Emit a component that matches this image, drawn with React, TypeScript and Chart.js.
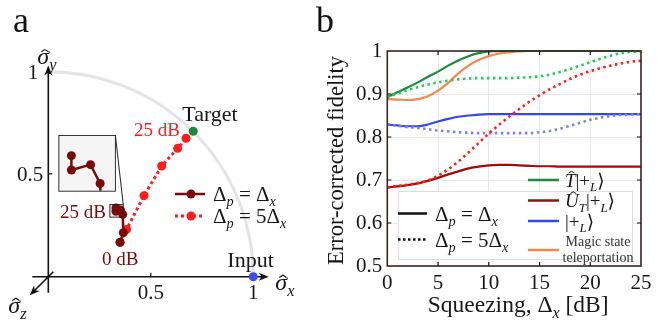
import React, { useEffect, useRef } from 'react';
import { Chart, registerables } from 'chart.js';
Chart.register(...registerables);

const FONT = '"Liberation Serif", "Times New Roman", "DejaVu Serif", serif';

// ---------- Panel a data ----------
const squeezingLevelsA = [0, 5, 10, 15, 20, 25];
const blochXEqual = [0.350, 0.366, 0.363, 0.352, 0.330, 0.330];
const blochYEqual = [0.167, 0.214, 0.303, 0.324, 0.318, 0.334];
const blochXFive = [0.350, 0.382, 0.467, 0.553, 0.631, 0.672];
const blochYFive = [0.167, 0.230, 0.394, 0.538, 0.624, 0.673];
const targetPoint = [0.707, 0.707];
const inputPoint = [1, 0];
const axisTicksA = [0.5, 1];
const axisTickLabelsA = ['0.5', '1'];

// ---------- Panel b data ----------
const squeezingDb = [0, 1, 2, 3, 4, 5, 6, 7, 8, 9, 10, 11, 12, 13, 14, 15, 16, 17, 18, 19, 20, 21, 22, 23, 24, 25];
const fidTSolid = [0.893, 0.904, 0.915, 0.927, 0.940, 0.952, 0.966, 0.978, 0.988, 0.995, 0.999, 1, 1, 1, 1, 1, 1, 1, 1, 1, 1, 1, 1, 1, 1, 1];
const fidTFive = [0.893, 0.901, 0.909, 0.916, 0.922, 0.927, 0.931, 0.934, 0.936, 0.937, 0.937, 0.937, 0.937, 0.938, 0.939, 0.941, 0.945, 0.951, 0.958, 0.966, 0.974, 0.982, 0.989, 0.995, 0.998, 0.999];
const fidUSolid = [0.683, 0.685, 0.688, 0.692, 0.698, 0.705, 0.713, 0.720, 0.727, 0.731, 0.734, 0.735, 0.735, 0.734, 0.733, 0.732, 0.732, 0.731, 0.731, 0.731, 0.731, 0.731, 0.731, 0.731, 0.731, 0.731];
const fidUFive = [0.683, 0.686, 0.689, 0.693, 0.699, 0.710, 0.725, 0.743, 0.764, 0.786, 0.808, 0.828, 0.847, 0.865, 0.882, 0.897, 0.911, 0.923, 0.935, 0.945, 0.953, 0.960, 0.966, 0.971, 0.975, 0.977];
const fidPlusSolid = [0.829, 0.827, 0.825, 0.825, 0.829, 0.836, 0.842, 0.847, 0.850, 0.852, 0.853, 0.853, 0.853, 0.853, 0.853, 0.853, 0.853, 0.853, 0.853, 0.853, 0.853, 0.853, 0.853, 0.853, 0.853, 0.853];
const fidPlusFive = [0.829, 0.826, 0.823, 0.821, 0.818, 0.815, 0.813, 0.811, 0.810, 0.809, 0.809, 0.809, 0.809, 0.809, 0.809, 0.811, 0.814, 0.819, 0.826, 0.833, 0.840, 0.845, 0.849, 0.851, 0.852, 0.853];
const fidMagicSolid = [0.888, 0.887, 0.886, 0.888, 0.895, 0.908, 0.926, 0.948, 0.966, 0.979, 0.988, 0.994, 0.997, 0.999, 1, 1, 1, 1, 1, 1, 1, 1, 1, 1, 1, 1];
const xTicksB = [0, 5, 10, 15, 20, 25];
const xTickLabelsB = ['0', '5', '10', '15', '20', '25'];
const yTicksB = [0.5, 0.6, 0.7, 0.8, 0.9, 1];
const yTickLabelsB = ['0.5', '0.6', '0.7', '0.8', '0.9', '1'];

// ---------- colours ----------
const C_DARKRED_A = '#7a0a0a';
const C_RED = '#ff1c1c';
const C_GREEN = '#1b8a3c';
const C_GREEN_LIGHT = '#22cc55';
const C_DARKRED = '#a00a0a';
const C_BLUE = '#3446ee';
const C_BLUE_LIGHT = '#7b84dc';
const C_ORANGE = '#f5874a';
const C_TEXT = '#161616';

type Seg = { t: string; it?: boolean; sub?: boolean; hat?: 'x' | 'cap' };

function segFont(s: Seg, base: number) {
  const size = s.sub ? base * 0.68 : base;
  return { size, font: `${s.it ? 'italic ' : ''}${size}px ${FONT}` };
}

function drawRich(ctx: CanvasRenderingContext2D, segs: Seg[], x: number, y: number, base: number, color: string, align: 'left' | 'center' | 'right' = 'left') {
  ctx.save();
  ctx.fillStyle = color;
  ctx.strokeStyle = color;
  ctx.textAlign = 'left';
  ctx.textBaseline = 'alphabetic';
  let w = 0;
  for (const s of segs) {
    ctx.font = segFont(s, base).font;
    w += ctx.measureText(s.t).width;
  }
  let cx = align === 'center' ? x - w / 2 : align === 'right' ? x - w : x;
  for (const s of segs) {
    const { size, font } = segFont(s, base);
    ctx.font = font;
    const dy = s.sub ? base * 0.26 : 0;
    ctx.fillText(s.t, cx, y + dy);
    const tw = ctx.measureText(s.t).width;
    if (s.hat) {
      const hx = cx + tw / 2 + (s.it ? size * 0.07 : 0);
      const hy = y + dy - (s.hat === 'cap' ? size * 0.8 : size * 0.6);
      const hw = size * 0.15;
      const hh = size * 0.09;
      ctx.lineWidth = Math.max(1, size * 0.05);
      ctx.beginPath();
      ctx.moveTo(hx - hw, hy + hh);
      ctx.lineTo(hx, hy);
      ctx.lineTo(hx + hw, hy + hh);
      ctx.stroke();
    }
    cx += tw;
  }
  ctx.restore();
  return w;
}

function arrowHead(ctx: CanvasRenderingContext2D, tx: number, ty: number, dx: number, dy: number, len = 10, half = 4) {
  const n = Math.hypot(dx, dy);
  const ux = dx / n, uy = dy / n;
  const bx = tx - ux * len, by = ty - uy * len;
  ctx.beginPath();
  ctx.moveTo(tx, ty);
  ctx.lineTo(bx - uy * half, by + ux * half);
  ctx.lineTo(tx - ux * len * 0.7, ty - uy * len * 0.7);
  ctx.lineTo(bx + uy * half, by - ux * half);
  ctx.closePath();
  ctx.fill();
}

const deltaEq: Seg[] = [{ t: 'Δ' }, { t: 'p', it: true, sub: true }, { t: ' = Δ' }, { t: 'x', it: true, sub: true }];
const deltaEq5: Seg[] = [{ t: 'Δ' }, { t: 'p', it: true, sub: true }, { t: ' = 5Δ' }, { t: 'x', it: true, sub: true }];

// layout constants for panel a (data units)
const insetWin = { x0: 0.315, x1: 0.380, y0: 0.295, y1: 0.357 };
const insetBox = { x0: 0.049, x1: 0.325, y0: 0.418, y1: 0.689 };
const markBox = { x0: 0.298, x1: 0.363, y0: 0.292, y1: 0.353 };

const panelAPlugin = {
  id: 'panelA',
  beforeDatasetsDraw(chart: any) {
    const ctx: CanvasRenderingContext2D = chart.ctx;
    const xs = chart.scales.x, ys = chart.scales.y;
    const ox = xs.getPixelForValue(0), oy = ys.getPixelForValue(0);
    const u = xs.getPixelForValue(1) - ox;
    ctx.save();
    ctx.strokeStyle = '#e4e4e4';
    ctx.lineWidth = 3;
    ctx.beginPath();
    ctx.arc(ox, oy, u, -Math.PI / 2, 0);
    ctx.stroke();
    ctx.strokeStyle = '#111';
    ctx.fillStyle = '#111';
    ctx.lineWidth = 1.6;
    ctx.beginPath();
    ctx.moveTo(ox - 16, oy);
    ctx.lineTo(ox + 1.06 * u, oy);
    ctx.moveTo(ox, oy + 16);
    ctx.lineTo(ox, oy - 1.02 * u);
    ctx.moveTo(ox + 5, oy - 5);
    ctx.lineTo(ox - 15, oy + 15);
    ctx.stroke();
    arrowHead(ctx, ox + 1.075 * u, oy, 1, 0);
    arrowHead(ctx, ox, oy - 1.03 * u, 0, -1);
    arrowHead(ctx, ox - 18.5, oy + 18.5, -1, 1);
    ctx.lineWidth = 1.2;
    axisTicksA.forEach((v) => {
      if (v >= 1) return;
      const px = xs.getPixelForValue(v), py = ys.getPixelForValue(v);
      ctx.beginPath();
      ctx.moveTo(px, oy);
      ctx.lineTo(px, oy - 4);
      ctx.moveTo(ox, py);
      ctx.lineTo(ox + 4, py);
      ctx.stroke();
    });
    ctx.font = `21px ${FONT}`;
    ctx.fillStyle = C_TEXT;
    ctx.textBaseline = 'alphabetic';
    axisTicksA.forEach((v, i) => {
      const px = xs.getPixelForValue(v), py = ys.getPixelForValue(v);
      ctx.textAlign = 'center';
      ctx.fillText(axisTickLabelsA[i], px, oy + 22);
      ctx.textAlign = 'right';
      ctx.fillText(axisTickLabelsA[i], ox - (v >= 1 ? 10 : 5), py + 7.5);
    });
    drawRich(ctx, [{ t: 'σ', it: true, hat: 'x' }, { t: 'y', it: true, sub: true }], ox - 11, ys.getPixelForValue(1) - 7, 24, C_TEXT);
    drawRich(ctx, [{ t: 'σ', it: true, hat: 'x' }, { t: 'x', it: true, sub: true }], xs.getPixelForValue(1) + 22, oy + 13, 24, C_TEXT);
    drawRich(ctx, [{ t: 'σ', it: true, hat: 'x' }, { t: 'z', it: true, sub: true }], ox - 40, oy + 36, 24, C_TEXT);
    ctx.restore();
  },
  afterDatasetsDraw(chart: any) {
    const ctx: CanvasRenderingContext2D = chart.ctx;
    const xs = chart.scales.x, ys = chart.scales.y;
    const X = (v: number) => xs.getPixelForValue(v);
    const Y = (v: number) => ys.getPixelForValue(v);
    ctx.save();
    const L = X(insetBox.x0), R = X(insetBox.x1), T = Y(insetBox.y1), B = Y(insetBox.y0);
    ctx.fillStyle = '#f5f5f5';
    ctx.fillRect(L, T, R - L, B - T);
    ctx.strokeStyle = '#333';
    ctx.lineWidth = 1;
    ctx.strokeRect(L + 0.5, T + 0.5, R - L, B - T);
    const mL = X(markBox.x0), mR = X(markBox.x1), mT = Y(markBox.y1), mB = Y(markBox.y0);
    ctx.strokeStyle = '#222';
    ctx.strokeRect(mL + 0.5, mT + 0.5, mR - mL, mB - mT);
    ctx.beginPath();
    ctx.moveTo(R + 0.5, T + 0.5);
    ctx.lineTo(mR + 0.5, mT + 0.5);
    ctx.stroke();
    ctx.save();
    ctx.beginPath();
    ctx.rect(L + 1, T + 1, R - L - 1, B - T - 1);
    ctx.clip();
    const ix = (v: number) => L + ((v - insetWin.x0) / (insetWin.x1 - insetWin.x0)) * (R - L);
    const iy = (v: number) => T + ((insetWin.y1 - v) / (insetWin.y1 - insetWin.y0)) * (B - T);
    ctx.strokeStyle = C_DARKRED_A;
    ctx.fillStyle = C_DARKRED_A;
    ctx.lineWidth = 2.5;
    ctx.beginPath();
    blochXEqual.forEach((x, i) => {
      const px = ix(x), py = iy(blochYEqual[i]);
      if (i === 0) ctx.moveTo(px, py); else ctx.lineTo(px, py);
    });
    ctx.stroke();
    blochXEqual.forEach((x, i) => {
      ctx.beginPath();
      ctx.arc(ix(x), iy(blochYEqual[i]), 4.5, 0, Math.PI * 2);
      ctx.fill();
    });
    ctx.restore();

    const lx0 = 175, lx1 = 205;
    ctx.lineWidth = 2.5;
    ctx.strokeStyle = C_DARKRED_A;
    ctx.fillStyle = C_DARKRED_A;
    ctx.beginPath(); ctx.moveTo(lx0, 194); ctx.lineTo(lx1, 194); ctx.stroke();
    ctx.beginPath(); ctx.arc(191, 194, 4.5, 0, Math.PI * 2); ctx.fill();
    ctx.strokeStyle = C_RED;
    ctx.fillStyle = C_RED;
    ctx.lineWidth = 3;
    ctx.setLineDash([3, 3]);
    ctx.beginPath(); ctx.moveTo(lx0, 216); ctx.lineTo(lx1, 216); ctx.stroke();
    ctx.setLineDash([]);
    ctx.beginPath(); ctx.arc(191, 216, 4.5, 0, Math.PI * 2); ctx.fill();
    drawRich(ctx, deltaEq, 213, 201, 21, C_TEXT);
    drawRich(ctx, deltaEq5, 213, 223, 21, C_TEXT);

    ctx.textAlign = 'left';
    ctx.textBaseline = 'alphabetic';
    ctx.font = `22px ${FONT}`;
    ctx.fillStyle = C_TEXT;
    ctx.fillText('Target', X(targetPoint[0]) - 11, Y(targetPoint[1]) - 10);
    ctx.fillText('Input', X(inputPoint[0]) - 26, Y(inputPoint[1]) - 10);
    ctx.font = `19px ${FONT}`;
    ctx.fillStyle = C_RED;
    ctx.fillText(`${squeezingLevelsA[5]} dB`, 134, 136);
    ctx.fillStyle = C_DARKRED_A;
    ctx.fillText(`${squeezingLevelsA[5]} dB`, 60, 218);
    ctx.fillText(`${squeezingLevelsA[0]} dB`, 102, 265);
    ctx.fillStyle = '#111';
    ctx.font = `36px ${FONT}`;
    ctx.fillText('a', 13, 32);
    ctx.restore();
  },
};

const OFF_B = 310;

const panelBPlugin = {
  id: 'panelB',
  afterDatasetsDraw(chart: any) {
    const ctx: CanvasRenderingContext2D = chart.ctx;
    const { left, right, top, bottom } = chart.chartArea;
    const xs = chart.scales.x, ys = chart.scales.y;
    ctx.save();
    const bx0 = 398 - OFF_B, bx1 = 632 - OFF_B, by0 = 191, by1 = 259;
    ctx.fillStyle = 'rgba(255,255,255,0.92)';
    ctx.fillRect(bx0, by0, bx1 - bx0, by1 - by0);
    ctx.strokeStyle = '#dddddd';
    ctx.lineWidth = 1;
    ctx.strokeRect(bx0 + 0.5, by0 + 0.5, bx1 - bx0, by1 - by0);
    ctx.strokeStyle = '#111';
    ctx.lineWidth = 2.5;
    ctx.beginPath(); ctx.moveTo(bx0, 213.5); ctx.lineTo(bx0 + 29, 213.5); ctx.stroke();
    ctx.setLineDash([2.5, 2.5]);
    ctx.beginPath(); ctx.moveTo(bx0, 239.5); ctx.lineTo(bx0 + 29, 239.5); ctx.stroke();
    ctx.setLineDash([]);
    drawRich(ctx, deltaEq, bx0 + 37, 220.5, 21, C_TEXT);
    drawRich(ctx, deltaEq5, bx0 + 37, 246.5, 21, C_TEXT);

    const rl0 = 528 - OFF_B, rl1 = 559 - OFF_B, rt = 565 - OFF_B;
    const entries: [string, number, Seg[] | null][] = [
      [C_GREEN, 180, [{ t: 'T', it: true, hat: 'cap' }, { t: '|+' }, { t: 'L', it: true, sub: true }, { t: '⟩' }]],
      [C_DARKRED, 200.5, [{ t: 'U', it: true, hat: 'cap' }, { t: 'T', it: true, sub: true }, { t: '|+' }, { t: 'L', it: true, sub: true }, { t: '⟩' }]],
      [C_BLUE, 221, [{ t: '|+' }, { t: 'L', it: true, sub: true }, { t: '⟩' }]],
      [C_ORANGE, 250, null],
    ];
    entries.forEach(([col, y, segs]) => {
      ctx.strokeStyle = col;
      ctx.lineWidth = 2.5;
      ctx.beginPath(); ctx.moveTo(rl0, y); ctx.lineTo(rl1, y); ctx.stroke();
      if (segs) drawRich(ctx, segs, rt, y + 6.5, 19, C_TEXT);
    });
    ctx.fillStyle = '#333';
    ctx.font = `14px ${FONT}`;
    ctx.textAlign = 'center';
    ctx.fillText('Magic state', 598 - OFF_B, 246);
    ctx.fillText('teleportation', 598 - OFF_B, 262);

    ctx.strokeStyle = '#3d2626';
    ctx.lineWidth = 1.6;
    ctx.strokeRect(left, top, right - left, bottom - top);
    ctx.strokeStyle = '#111';
    ctx.lineWidth = 1.2;
    xTicksB.slice(1, -1).forEach((v) => {
      const px = xs.getPixelForValue(v);
      ctx.beginPath();
      ctx.moveTo(px, bottom); ctx.lineTo(px, bottom - 4);
      ctx.moveTo(px, top); ctx.lineTo(px, top + 4);
      ctx.stroke();
    });
    yTicksB.slice(1, -1).forEach((v) => {
      const py = ys.getPixelForValue(v);
      ctx.beginPath();
      ctx.moveTo(left, py); ctx.lineTo(left + 4, py);
      ctx.moveTo(right, py); ctx.lineTo(right - 4, py);
      ctx.stroke();
    });

    drawRich(ctx, [{ t: 'Squeezing, Δ' }, { t: 'x', it: true, sub: true }, { t: ' [dB]' }], (left + right) / 2 + 4, 312, 23.5, C_TEXT, 'center');
    ctx.save();
    ctx.translate(337 - OFF_B, (top + bottom) / 2 + 2);
    ctx.rotate(-Math.PI / 2);
    ctx.fillStyle = C_TEXT;
    ctx.font = `22.5px ${FONT}`;
    ctx.textAlign = 'center';
    ctx.textBaseline = 'middle';
    ctx.fillText('Error-corrected fidelity', 0, 0);
    ctx.restore();
    ctx.fillStyle = '#111';
    ctx.font = `36px ${FONT}`;
    ctx.textAlign = 'left';
    ctx.fillText('b', 316 - OFF_B, 32);
    ctx.restore();
  },
};

function series(vals: number[]) {
  return squeezingDb.map((x, i) => ({ x, y: vals[i] }));
}

export default function App() {
  const refA = useRef<HTMLCanvasElement>(null);
  const refB = useRef<HTMLCanvasElement>(null);

  useEffect(() => {
    let cancelled = false;
    let chartA: Chart | null = null;
    let chartB: Chart | null = null;

    const build = () => {
      if (cancelled) return;
      const pts = (xs: number[], ys: number[]) => xs.map((x, i) => ({ x, y: ys[i] }));
      chartA = new Chart(refA.current!, {
        type: 'scatter',
        data: {
          datasets: [
            { data: pts(blochXEqual, blochYEqual), showLine: true, borderColor: C_DARKRED_A, backgroundColor: C_DARKRED_A, borderWidth: 2.5, pointRadius: 4.5, pointBorderWidth: 0, clip: false } as any,
            { data: pts(blochXFive, blochYFive), showLine: true, borderColor: C_RED, backgroundColor: C_RED, borderWidth: 3, borderDash: [3, 3], pointRadius: 4.5, pointBorderWidth: 0, clip: false } as any,
            { data: [{ x: targetPoint[0], y: targetPoint[1] }], backgroundColor: C_GREEN, borderColor: C_GREEN, pointRadius: 4.5, pointBorderWidth: 0, clip: false } as any,
            { data: [{ x: inputPoint[0], y: inputPoint[1] }], backgroundColor: '#3b4cf0', borderColor: '#3b4cf0', pointRadius: 4.5, pointBorderWidth: 0, clip: false } as any,
          ],
        },
        options: {
          responsive: false,
          animation: false,
          devicePixelRatio: 1,
          events: [],
          layout: { padding: { left: 48.3, right: 76.7, top: 71, bottom: 45.3 } },
          scales: {
            x: { type: 'linear', min: 0, max: 1, display: false },
            y: { type: 'linear', min: 0, max: 1, display: false },
          },
          plugins: { legend: { display: false }, tooltip: { enabled: false } },
        },
        plugins: [panelAPlugin],
      } as any);

      const line = (vals: number[], color: string, dotted: boolean) => ({
        data: series(vals),
        borderColor: color,
        backgroundColor: color,
        borderWidth: dotted ? 2.6 : 2.2,
        borderDash: dotted ? [2.5, 3.5] : [],
        pointRadius: 0,
        cubicInterpolationMode: 'monotone',
        clip: 3,
      });

      chartB = new Chart(refB.current!, {
        type: 'line',
        data: {
          datasets: [
            line(fidUFive, C_RED, true),
            line(fidTFive, C_GREEN_LIGHT, true),
            line(fidPlusFive, C_BLUE_LIGHT, true),
            line(fidTSolid, C_GREEN, false),
            line(fidMagicSolid, C_ORANGE, false),
            line(fidPlusSolid, C_BLUE, false),
            line(fidUSolid, C_DARKRED, false),
          ] as any,
        },
        options: {
          responsive: false,
          animation: false,
          devicePixelRatio: 1,
          events: [],
          layout: { padding: { left: 0, right: 22, top: 51, bottom: 0 } },
          scales: {
            x: {
              type: 'linear',
              min: 0,
              max: 25,
              afterFit: (s: any) => { s.height = 56; },
              afterBuildTicks: (s: any) => { s.ticks = xTicksB.map((v) => ({ value: v })); },
              ticks: { font: { family: FONT, size: 21 }, color: C_TEXT, padding: 5, maxRotation: 0, autoSkip: false, callback: (_v: any, i: number) => xTickLabelsB[i] },
              grid: { color: '#e8e8e8', lineWidth: 1, drawTicks: false },
              border: { display: false },
            },
            y: {
              type: 'linear',
              min: 0.5,
              max: 1,
              afterFit: (s: any) => { s.width = 77.3; },
              afterBuildTicks: (s: any) => { s.ticks = yTicksB.map((v) => ({ value: v })); },
              ticks: { font: { family: FONT, size: 21 }, color: C_TEXT, padding: 5, autoSkip: false, callback: (_v: any, i: number) => yTickLabelsB[i] },
              grid: { color: '#e8e8e8', lineWidth: 1, drawTicks: false },
              border: { display: false },
            },
          },
          plugins: { legend: { display: false }, tooltip: { enabled: false } },
        },
        plugins: [panelBPlugin],
      } as any);
    };

    const fam = '"Liberation Serif"';
    const loads = [
      `21px ${fam}`, `italic 21px ${fam}`,
    ].map((f) => (document.fonts && document.fonts.load ? document.fonts.load(f, 'ΔσTarget0123').catch(() => []) : Promise.resolve([])));
    Promise.all(loads).then(() => (document.fonts ? document.fonts.ready : null)).then(build, build);

    return () => {
      cancelled = true;
      if (chartA) chartA.destroy();
      if (chartB) chartB.destroy();
    };
  }, []);

  return (
    <div style={{ position: 'absolute', left: 0, top: 0, width: 663, height: 322, background: '#fff', overflow: 'hidden' }}>
      <canvas ref={refA} width={330} height={322} style={{ position: 'absolute', left: 0, top: 0, width: 330, height: 322 }} />
      <canvas ref={refB} width={353} height={322} style={{ position: 'absolute', left: OFF_B, top: 0, width: 353, height: 322 }} />
    </div>
  );
}
